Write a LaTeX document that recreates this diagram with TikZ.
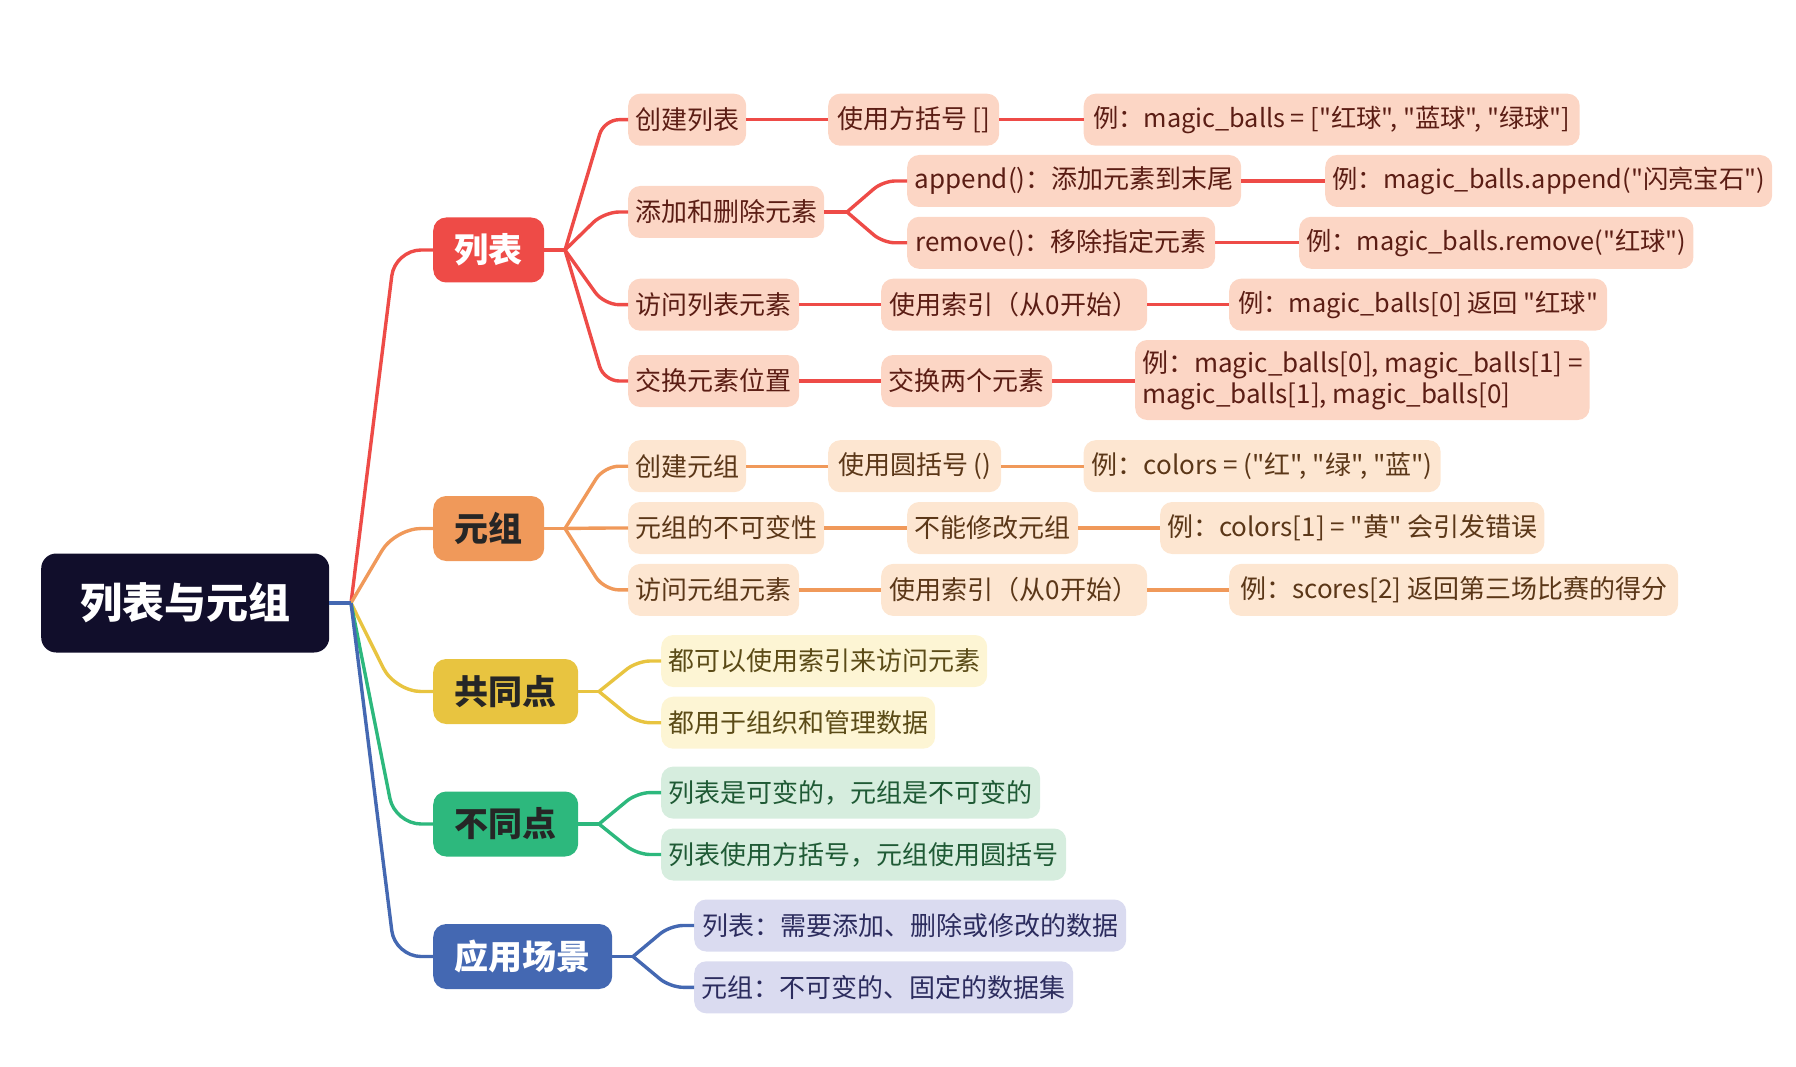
\documentclass[tikz,border=0pt]{standalone}
\usepackage{fontspec}
\setmainfont{Noto Sans CJK SC}[Ligatures=TeXOff]
\definecolor{cRoot}{HTML}{110E2B}
\definecolor{cRed}{HTML}{EE4B47}
\definecolor{cOra}{HTML}{F0995A}
\definecolor{cYel}{HTML}{E8C440}
\definecolor{cGre}{HTML}{2DB87D}
\definecolor{cBlu}{HTML}{4468B2}
\definecolor{pRed}{HTML}{FCD6C5}
\definecolor{pOra}{HTML}{FDE6D1}
\definecolor{pYel}{HTML}{FDF5D4}
\definecolor{pGre}{HTML}{D6EDDE}
\definecolor{pBlu}{HTML}{DADBF0}
\definecolor{tRed}{HTML}{5B1D14}
\definecolor{tOra}{HTML}{5B3718}
\definecolor{tYel}{HTML}{5B4B17}
\definecolor{tGre}{HTML}{1F5A35}
\definecolor{tBlu}{HTML}{2C2C5E}
\tikzset{
  box/.style={anchor=west, rounded corners=12pt, inner xsep=7pt, inner ysep=0pt,
    minimum height=52pt, font=\fontsize{26}{31}\selectfont},
  exsmall/.style={font=\fontsize{25.3}{31}\selectfont},
  redbox/.style={box, fill=pRed, text=tRed},
  orabox/.style={box, fill=pOra, text=tOra},
  yelbox/.style={box, fill=pYel, text=tYel},
  grebox/.style={box, fill=pGre, text=tGre},
  blubox/.style={box, fill=pBlu, text=tBlu},
  lone/.style={anchor=west, rounded corners=13pt, inner xsep=0pt, inner ysep=0pt,
    minimum height=65pt, font=\fontsize{34}{38}\selectfont\bfseries},
  link/.style={line width=3.4pt},
  redlink/.style={link, draw=cRed},
  oralink/.style={link, draw=cOra},
  yellink/.style={link, draw=cYel},
  grelink/.style={link, draw=cGre},
  blulink/.style={link, draw=cBlu},
}
\begin{document}
\begin{tikzpicture}[x=1pt, y=-1pt]
\useasboundingbox (0,0) rectangle (1796,1067);
% root
\node[anchor=west, rounded corners=15pt, fill=cRoot, text=white, minimum width=288pt,
  minimum height=99pt, font=\fontsize{42}{46}\selectfont\bfseries] (root) at (41,603) {列表与元组};
% level 1
\node[lone, fill=cRed, text=white, minimum width=111pt] (nL) at (433,250) {列表};
\node[lone, fill=cOra, text=black!85, minimum width=111pt] (nT) at (433,528.5) {元组};
\node[lone, fill=cYel, text=black!85, minimum width=145pt] (nC) at (433,691.5) {共同点};
\node[lone, fill=cGre, text=black!85, minimum width=145pt] (nD) at (433,824) {不同点};
\node[lone, fill=cBlu, text=white, minimum width=179pt] (nA) at (433,956.5) {应用场景};
% red branch
\node[redbox, minimum width=118pt] (a1) at (628,119.7) {创建列表};
\node[redbox, minimum width=196pt] (a2) at (628,212) {添加和删除元素};
\node[redbox, minimum width=171pt] (a3) at (628,304.7) {访问列表元素};
\node[redbox, minimum width=171pt] (a4) at (628,381) {交换元素位置};
\node[redbox, minimum width=171pt] (b1) at (828,119.7) {使用方括号 []};
\node[redbox, minimum width=334pt] (b2a) at (907,181) {append()：添加元素到末尾};
\node[redbox, minimum width=308pt] (b2b) at (907,242.8) {remove()：移除指定元素};
\node[redbox, minimum width=266pt] (b3) at (881,304.7) {使用索引（从0开始）};
\node[redbox, minimum width=171pt] (b4) at (881,381) {交换两个元素};
\node[redbox, exsmall, minimum width=496pt] (c1) at (1083.5,119.7) {例：magic\_balls = ["红球", "蓝球", "绿球"]};
\node[redbox, exsmall, minimum width=447pt] (c2a) at (1325,181) {例：magic\_balls.append("闪亮宝石")};
\node[redbox, exsmall, minimum width=394pt] (c2b) at (1299,242.8) {例：magic\_balls.remove("红球")};
\node[redbox, exsmall, minimum width=378pt] (c3) at (1229,304.7) {例：magic\_balls[0] 返回 "红球"};
\node[redbox, minimum width=448pt, minimum height=80pt, align=left] (c4) at (1135,380)
  {例：magic\_balls[0], magic\_balls[1] =\\magic\_balls[1], magic\_balls[0]};
% orange branch
\node[orabox, minimum width=118pt] (a5) at (628,466.2) {创建元组};
\node[orabox, minimum width=196pt] (a6) at (628,528) {元组的不可变性};
\node[orabox, minimum width=171pt] (a7) at (628,589.9) {访问元组元素};
\node[orabox, minimum width=173pt] (b5) at (828,466.2) {使用圆括号 ()};
\node[orabox, minimum width=171pt] (b6) at (907,528) {不能修改元组};
\node[orabox, minimum width=266pt] (b7) at (881,589.9) {使用索引（从0开始）};
\node[orabox, minimum width=357pt] (c5) at (1083.5,466.2) {例：colors = ("红", "绿", "蓝")};
\node[orabox, minimum width=381pt] (c6) at (1160,528) {例：colors[1] = "黄" 会引发错误};
\node[orabox, minimum width=449pt] (c7) at (1229,589.9) {例：scores[2] 返回第三场比赛的得分};
% yellow
\node[yelbox, minimum width=326pt] (d1) at (661,661) {都可以使用索引来访问元素};
\node[yelbox, minimum width=274pt] (d2) at (661,722.7) {都用于组织和管理数据};
% green
\node[grebox, minimum width=379pt] (e1) at (661,792.6) {列表是可变的，元组是不可变的};
\node[grebox, minimum width=405pt] (e2) at (661,854.5) {列表使用方括号，元组使用圆括号};
% blue
\node[blubox, minimum width=432pt] (f1) at (694,925.5) {列表：需要添加、删除或修改的数据};
\node[blubox, minimum width=379pt] (f2) at (694,987.3) {元组：不可变的、固定的数据集};

% ---- connectors root -> level 1
\coordinate (rf) at (351,603);
\coordinate (rc) at (395,603);
\draw[redlink] (root.east) -- (rf);
\draw[redlink, rounded corners=26pt] (rf) -- (nL.west -| rc) -- (nL.west);
\draw[oralink] (root.east) -- (rf);
\draw[oralink, rounded corners=26pt] (rf) -- (nT.west -| rc) -- (nT.west);
\draw[yellink] (root.east) -- (rf);
\draw[yellink, rounded corners=26pt] (rf) -- (nC.west -| rc) -- (nC.west);
\draw[grelink] (root.east) -- (rf);
\draw[grelink, rounded corners=26pt] (rf) -- (nD.west -| rc) -- (nD.west);
\draw[blulink] (root.east) -- (rf);
\draw[blulink, rounded corners=26pt] (rf) -- (nA.west -| rc) -- (nA.west);

% ---- red: level 1 -> level 2
\coordinate (Lf) at (565,250);
\coordinate (Lc) at (604,250);
\draw[redlink] (nL.east) -- (Lf);
\foreach \n in {a1,a2,a3,a4}
  \draw[redlink, rounded corners=15pt] (Lf) -- (\n.west -| Lc) -- (\n.west);
\draw[redlink] (a1.east) -- (b1.west);
\draw[redlink] (b1.east) -- (c1.west);
\coordinate (Af) at (847,212);
\coordinate (Ac) at (883,212);
\draw[redlink] (a2.east) -- (Af);
\foreach \n in {b2a,b2b}
  \draw[redlink, rounded corners=12pt] (Af) -- (\n.west -| Ac) -- (\n.west);
\draw[redlink] (b2a.east) -- (c2a.west);
\draw[redlink] (b2b.east) -- (c2b.west);
\draw[redlink] (a3.east) -- (b3.west);
\draw[redlink] (b3.east) -- (c3.west);
\draw[redlink] (a4.east) -- (b4.west);
\draw[redlink] (b4.east) -- (b4.east -| c4.west);

% ---- orange
\coordinate (Tf) at (565,528.5);
\coordinate (Tc) at (604,528.5);
\draw[oralink] (nT.east) -- (Tf);
\foreach \n in {a5,a6,a7}
  \draw[oralink, rounded corners=15pt] (Tf) -- (\n.west -| Tc) -- (\n.west);
\draw[oralink] (a5.east) -- (b5.west);
\draw[oralink] (b5.east) -- (c5.west);
\draw[oralink] (a6.east) -- (b6.west);
\draw[oralink] (b6.east) -- (c6.west);
\draw[oralink] (a7.east) -- (b7.west);
\draw[oralink] (b7.east) -- (c7.west);

% ---- yellow
\coordinate (Cf) at (599,691.5);
\coordinate (Cc) at (637,691.5);
\draw[yellink] (nC.east) -- (Cf);
\foreach \n in {d1,d2}
  \draw[yellink, rounded corners=13pt] (Cf) -- (\n.west -| Cc) -- (\n.west);

% ---- green
\coordinate (Df) at (599,824);
\coordinate (Dc) at (637,824);
\draw[grelink] (nD.east) -- (Df);
\foreach \n in {e1,e2}
  \draw[grelink, rounded corners=13pt] (Df) -- (\n.west -| Dc) -- (\n.west);

% ---- blue
\coordinate (Bf) at (633,956.5);
\coordinate (Bc) at (670,956.5);
\draw[blulink] (nA.east) -- (Bf);
\foreach \n in {f1,f2}
  \draw[blulink, rounded corners=13pt] (Bf) -- (\n.west -| Bc) -- (\n.west);
\end{tikzpicture}
\end{document}
